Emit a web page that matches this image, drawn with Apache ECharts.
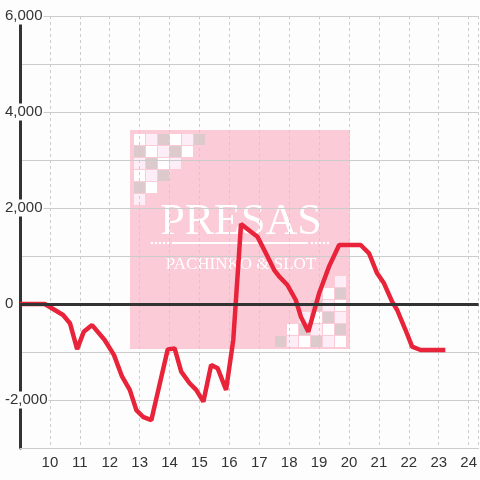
<!DOCTYPE html>
<html>
<head>
<meta charset="utf-8">
<script src="https://cdn.jsdelivr.net/npm/echarts@6/dist/echarts.min.js"></script>
<style>
  html, body { margin: 0; padding: 0; background: #fcfdfc; }
  #main { width: 480px; height: 480px; }
</style>
</head>
<body>
<div id="main"></div>
<script>
// 時刻（時）と収支
const hours = [9, 9.83, 10.44, 10.67, 10.91, 11.13, 11.41, 11.83, 12.14, 12.41, 12.67, 12.89, 13.11, 13.39,
  13.94, 14.17, 14.39, 14.67, 14.89, 15.13, 15.39, 15.61, 15.89, 16.13, 16.39, 16.72, 16.94, 17.22, 17.5,
  17.67, 17.94, 18.22, 18.39, 18.64, 19.0, 19.33, 19.67, 20.39, 20.67, 20.94, 21.17, 21.44, 21.61, 21.89,
  22.11, 22.39, 23.22];
const balance = [0, 0, -230, -400, -940, -580, -440, -750, -1060, -1510, -1790, -2210, -2350, -2420,
  -945, -925, -1410, -1650, -1790, -2035, -1270, -1340, -1790, -750, 1667, 1506, 1400, 1056, 708,
  569, 396, 83, -264, -576, 222, 778, 1229, 1229, 1056, 639, 431, 48, -125, -542,
  -889, -958, -958];
const yLabelValues = [6000, 4000, 2000, 0, -2000];

const chart = echarts.init(document.getElementById('main'));

// 背景ロゴ（ピンクのパネル）
const pink = '#fccbd8';
const cellColors = ['#ffffff', '#fcedf6', '#dccacd'];
const logo = [];
logo.push({ type: 'rect', shape: { x: 130, y: 130, width: 220, height: 219 }, style: { fill: pink }, z: -10 });
for (let r = 0; r < 6; r++) {
  for (let c = 0; c < 6 - r; c++) {
    const col = cellColors[((c - r) % 3 + 3) % 3];
    logo.push({ type: 'rect', shape: { x: 134 + c * 12, y: 134 + r * 12, width: 11, height: 11 }, style: { fill: col }, z: -9 });
    logo.push({ type: 'rect', shape: { x: 335 - c * 12, y: 336 - r * 12, width: 11, height: 11 }, style: { fill: col }, z: -9 });
  }
}
logo.push({
  type: 'text', z: -8,
  style: { text: 'PRESAS', fill: '#ffffff', font: '44px "Liberation Serif", "DejaVu Serif", serif', x: 241, y: 200, textAlign: 'center' }
});
logo.push({ type: 'rect', shape: { x: 172, y: 242, width: 136, height: 2 }, style: { fill: '#ffffff' }, z: -8 });
for (let i = 0; i < 5; i++) {
  logo.push({ type: 'circle', shape: { cx: 152 + i * 4, cy: 243, r: 1.3 }, style: { fill: '#ffffff' }, z: -8 });
  logo.push({ type: 'circle', shape: { cx: 312 + i * 4, cy: 243, r: 1.3 }, style: { fill: '#ffffff' }, z: -8 });
}
logo.push({
  type: 'text', z: -8,
  style: { text: 'PACHINKO & SLOT', fill: '#ffffff', font: '17px "Liberation Serif", "DejaVu Serif", serif', x: 241, y: 256, textAlign: 'center' }
});

const option = {
  backgroundColor: '#fcfdfc',
  animation: false,
  grid: { left: 20, right: 0, top: 16, bottom: 32 },
  graphic: logo,
  xAxis: {
    type: 'value',
    min: 9,
    max: 9 + 460 / 30,
    interval: 1,
    axisLine: { onZero: false, lineStyle: { color: '#cccccc', width: 1 } },
    axisTick: { show: false },
    axisLabel: {
      color: '#333333',
      fontSize: 15,
      fontFamily: 'Liberation Sans, Arial, sans-serif',
      margin: 7,
      showMinLabel: false,
      showMaxLabel: false,
      formatter: v => (Number.isInteger(v) ? String(v) : '')
    },
    splitLine: { show: true, lineStyle: { color: '#cccccc', type: [3, 3], width: 1 } }
  },
  yAxis: {
    type: 'value',
    min: -3000,
    max: 6000,
    interval: 1000,
    axisLine: { show: true, lineStyle: { color: '#333333', width: 3 } },
    axisTick: { show: false },
    axisLabel: {
      color: '#333333',
      fontSize: 15,
      fontFamily: 'Liberation Sans, Arial, sans-serif',
      align: 'left',
      margin: 16,
      backgroundColor: '#fcfdfc',
      padding: [2, 1, 0, 1],
      formatter: v => (yLabelValues.includes(v) ? v.toLocaleString('en-US') : '')
    },
    splitLine: { show: true, lineStyle: { color: '#cccccc', width: 1 } }
  },
  series: [{
    type: 'line',
    data: hours.map((h, i) => [h, balance[i]]),
    showSymbol: false,
    lineStyle: { color: '#e8233a', width: 4.5 },
    markLine: {
      silent: true,
      symbol: 'none',
      label: { show: false },
      lineStyle: { color: '#333333', width: 3, type: 'solid' },
      data: [{ yAxis: 0 }]
    },
    z: 3
  }]
};
chart.setOption(option);
</script>
</body>
</html>
